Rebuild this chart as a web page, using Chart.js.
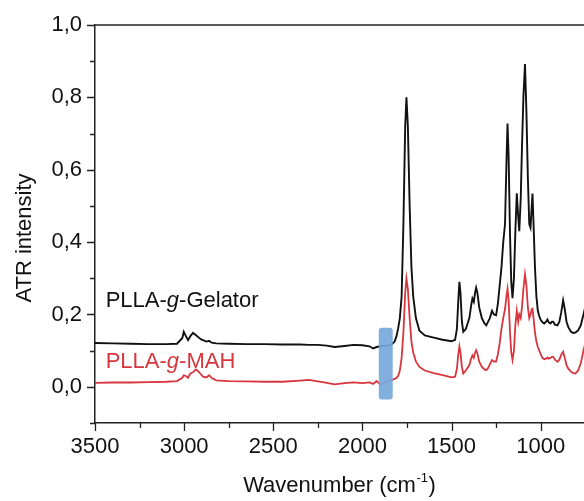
<!DOCTYPE html>
<html><head><meta charset="utf-8">
<script src="https://cdn.jsdelivr.net/npm/chart.js@4.4.1/dist/chart.umd.min.js"></script>
<style>html,body{margin:0;padding:0;background:#fff}canvas{display:block}</style>
</head><body>
<canvas id="c" width="584" height="501"></canvas>
<script>
// ---- data ----
const wavenumbers = [
  3500, 3400, 3300, 3200, 3100, 3040, 3010, 3002, 2990, 2978, 2965, 2950, 2935, 2922, 2905, 2894, 2875, 2860, 2845, 2820,
  2750, 2650, 2550, 2450, 2350, 2300, 2250, 2200, 2156, 2100, 2050, 2000,
  1960, 1940, 1920, 1900, 1880, 1860, 1840, 1820, 1810, 1800, 1790, 1780, 1770, 1760, 1753, 1745, 1735, 1725, 1715, 1700, 1680,
  1650, 1600, 1550, 1500, 1480, 1470, 1462, 1456, 1450, 1442, 1434,
  1420, 1400, 1390, 1383, 1375, 1368, 1362, 1355, 1345, 1330, 1315, 1305, 1295, 1285, 1273, 1262, 1250,
  1240, 1230, 1220, 1210, 1200, 1192, 1186, 1180, 1172, 1165, 1158, 1150, 1142, 1134, 1126, 1120, 1112, 1105, 1097, 1088, 1080, 1072, 1064, 1057, 1050, 1046,
  1040, 1032, 1024, 1016, 1008, 1000, 990, 980, 970, 962, 955, 945, 937, 930, 920, 906, 895, 885, 874, 865, 855, 845, 830, 818, 805, 790, 775, 760, 750
];
const gelator = [
  0.121, 0.120, 0.119, 0.118, 0.118, 0.119, 0.135, 0.152, 0.140, 0.129, 0.140, 0.149, 0.143, 0.138, 0.131, 0.129, 0.125, 0.127, 0.122, 0.120,
  0.119, 0.118, 0.118, 0.117, 0.117, 0.116, 0.116, 0.114, 0.110, 0.113, 0.116, 0.115,
  0.112, 0.106, 0.110, 0.112, 0.113, 0.114, 0.116, 0.125, 0.138, 0.160, 0.190, 0.25, 0.45, 0.72, 0.80, 0.72, 0.50, 0.33, 0.25, 0.19, 0.155,
  0.142, 0.136, 0.130, 0.126, 0.13, 0.16, 0.24, 0.29, 0.26, 0.18, 0.152,
  0.16, 0.19, 0.225, 0.244, 0.235, 0.26, 0.274, 0.26, 0.22, 0.19, 0.175, 0.17, 0.18, 0.19, 0.21, 0.20, 0.198,
  0.23, 0.28, 0.33, 0.40, 0.45, 0.62, 0.728, 0.64, 0.42, 0.29, 0.245, 0.30, 0.43, 0.535, 0.47, 0.43, 0.52, 0.66, 0.80, 0.892, 0.76, 0.58, 0.45, 0.44, 0.50, 0.534,
  0.45, 0.33, 0.25, 0.21, 0.195, 0.185, 0.178, 0.175, 0.18, 0.186, 0.178, 0.175, 0.18, 0.18, 0.172, 0.17, 0.18, 0.205, 0.239, 0.215, 0.18, 0.165, 0.152, 0.149, 0.15, 0.156, 0.17, 0.20, 0.22
];
const mah = [
  0.011, 0.012, 0.012, 0.013, 0.014, 0.016, 0.025, 0.032, 0.030, 0.025, 0.037, 0.040, 0.048, 0.044, 0.034, 0.028, 0.026, 0.032, 0.024, 0.018,
  0.016, 0.015, 0.014, 0.014, 0.017, 0.019, 0.015, 0.011, 0.007, 0.010, 0.012, 0.010,
  0.012, 0.008, 0.016, 0.006, 0.012, 0.016, 0.018, 0.022, 0.024, 0.030, 0.045, 0.08, 0.15, 0.26, 0.30, 0.27, 0.19, 0.125, 0.095, 0.07, 0.055,
  0.045, 0.038, 0.032, 0.026, 0.028, 0.05, 0.09, 0.112, 0.095, 0.055, 0.037,
  0.045, 0.06, 0.078, 0.087, 0.08, 0.095, 0.101, 0.092, 0.07, 0.055, 0.048, 0.046, 0.052, 0.062, 0.074, 0.07, 0.07,
  0.09, 0.12, 0.16, 0.19, 0.215, 0.25, 0.271, 0.24, 0.15, 0.095, 0.074, 0.10, 0.17, 0.21, 0.18, 0.20, 0.19, 0.22, 0.27, 0.311, 0.28, 0.22, 0.19, 0.20, 0.215, 0.216,
  0.19, 0.15, 0.125, 0.11, 0.10, 0.09, 0.08, 0.076, 0.078, 0.081, 0.078, 0.08, 0.083, 0.083, 0.075, 0.069, 0.075, 0.088, 0.097, 0.08, 0.06, 0.05, 0.042, 0.038, 0.037, 0.045, 0.065, 0.10, 0.12
];
const seriesNames = ['PLLA-g-Gelator', 'PLLA-g-MAH'];
const xRange = [757, 3500];      // reversed wavenumber axis
const yRange = [-0.1, 1.0];
const xTickValues = [1000, 1250, 1500, 1750, 2000, 2250, 2500, 2750, 3000, 3250, 3500];
const xLabelTicks = [3500, 3000, 2500, 2000, 1500, 1000];
const yTickValues = [-0.1, 0, 0.1, 0.2, 0.3, 0.4, 0.5, 0.6, 0.7, 0.8, 0.9, 1.0];
const highlightBand = { from: 1908, to: 1830, low: -0.035, high: 0.163 };
const labelAnchors = [ { x: 3440, y: 0.221 }, { x: 3440, y: 0.051 } ];

// ---- styles ----
const FONT = "'Liberation Sans', Arial, sans-serif";
const BLACK = '#111111';
const RED = '#d8363e';
const AXIS = '#222222';

const extras = {
  id: 'extras',
  afterDatasetsDraw(chart) {
    const { ctx, scales: { x, y } } = chart;
    const x1 = x.getPixelForValue(highlightBand.from), x2 = x.getPixelForValue(highlightBand.to);
    const y1 = y.getPixelForValue(highlightBand.high), y2 = y.getPixelForValue(highlightBand.low);
    ctx.save();
    ctx.fillStyle = 'rgba(120,168,220,0.92)';
    ctx.beginPath();
    if (ctx.roundRect) ctx.roundRect(Math.min(x1, x2), y1, Math.abs(x2 - x1), y2 - y1, 3);
    else ctx.rect(Math.min(x1, x2), y1, Math.abs(x2 - x1), y2 - y1);
    ctx.fill();
    ctx.restore();
  },
  afterDraw(chart) {
    const { ctx, chartArea: a, scales: { x, y } } = chart;
    ctx.save();
    ctx.strokeStyle = AXIS;
    ctx.lineWidth = 1.5;
    ctx.beginPath();
    ctx.moveTo(a.left - 0.75, a.top); ctx.lineTo(a.right, a.top);
    ctx.stroke();
    ctx.lineWidth = 1.3;
    ctx.beginPath();
    x.ticks.forEach(t => {
      const px = Math.round(x.getPixelForValue(t.value)) + 0.5;
      const len = t.value % 500 === 0 ? 8 : 5;
      ctx.moveTo(px, a.bottom); ctx.lineTo(px, a.bottom + len);
    });
    y.ticks.forEach(t => {
      const py = Math.round(y.getPixelForValue(t.value)) + 0.5;
      const len = Math.round(t.value * 10) % 2 === 0 ? 8 : 5;
      ctx.moveTo(a.left, py); ctx.lineTo(a.left - len, py);
    });
    ctx.stroke();

    const drawParts = (parts, px, py, color) => {
      let cx = px;
      ctx.fillStyle = color;
      ctx.textBaseline = 'alphabetic';
      ctx.textAlign = 'left';
      parts.forEach(([txt, italic]) => {
        ctx.font = (italic ? 'italic ' : '') + '22px ' + FONT;
        ctx.fillText(txt, cx, py);
        cx += ctx.measureText(txt).width;
      });
    };
    const split = name => { const i = name.indexOf('-g-'); return [[name.slice(0, i + 1), false], ['g', true], [name.slice(i + 2), false]]; };
    drawParts(split(seriesNames[0]), x.getPixelForValue(labelAnchors[0].x), y.getPixelForValue(labelAnchors[0].y), BLACK);
    drawParts(split(seriesNames[1]), x.getPixelForValue(labelAnchors[1].x), y.getPixelForValue(labelAnchors[1].y), RED);

    ctx.fillStyle = BLACK;
    ctx.font = '22px ' + FONT;
    const t1 = 'Wavenumber (cm', sup = '-1', t2 = ')';
    const w1 = ctx.measureText(t1).width, w3 = ctx.measureText(t2).width;
    ctx.font = '13px ' + FONT;
    const w2 = ctx.measureText(sup).width;
    const cx = (a.left + a.right) / 2;
    let sx = cx - (w1 + w2 + w3 + 1) / 2;
    const base = 492;
    ctx.font = '22px ' + FONT;
    ctx.fillText(t1, sx, base);
    ctx.font = '13px ' + FONT;
    ctx.fillText(sup, sx + w1 + 0.5, base - 10);
    ctx.font = '22px ' + FONT;
    ctx.fillText(t2, sx + w1 + w2 + 1, base);

    ctx.save();
    ctx.translate(31, 238);
    ctx.rotate(-Math.PI / 2);
    ctx.textAlign = 'center';
    ctx.fillText('ATR intensity', 0, 0);
    ctx.restore();
    ctx.restore();
  }
};

const tickFont = { family: FONT, size: 22 };

new Chart(document.getElementById('c'), {
  type: 'line',
  data: {
    datasets: [
      { label: seriesNames[0], data: wavenumbers.map((w, i) => ({ x: w, y: gelator[i] })), borderColor: BLACK, borderWidth: 1.9, pointRadius: 0, tension: 0 },
      { label: seriesNames[1], data: wavenumbers.map((w, i) => ({ x: w, y: mah[i] })), borderColor: RED, borderWidth: 1.8, pointRadius: 0, tension: 0 }
    ]
  },
  options: {
    responsive: false,
    animation: false,
    devicePixelRatio: 1,
    layout: { padding: { top: 25, right: 0, left: 0, bottom: 0 } },
    plugins: { legend: { display: false }, tooltip: { enabled: false } },
    scales: {
      x: {
        type: 'linear', reverse: true, min: xRange[0], max: xRange[1],
        afterBuildTicks: s => { s.ticks = xTickValues.map(v => ({ value: v })); },
        afterFit: s => { s.height = 78; },
        ticks: { autoSkip: false, maxRotation: 0, padding: 3, color: BLACK, font: tickFont,
          callback: v => xLabelTicks.includes(v) ? String(v) : '' },
        grid: { display: true, drawOnChartArea: false, drawTicks: true, tickLength: 8, color: 'rgba(0,0,0,0)' },
        border: { display: true, color: AXIS, width: 1.5 }
      },
      y: {
        min: yRange[0], max: yRange[1],
        afterBuildTicks: s => { s.ticks = yTickValues.map(v => ({ value: v })); },
        afterFit: s => { s.width = 95; },
        ticks: { autoSkip: false, padding: 5, color: BLACK, font: tickFont,
          callback: v => Math.round(v * 10) % 2 === 0 ? v.toFixed(1).replace('.', ',') : '' },
        grid: { display: true, drawOnChartArea: false, drawTicks: true, tickLength: 8, color: 'rgba(0,0,0,0)' },
        border: { display: true, color: AXIS, width: 1.5 }
      }
    }
  },
  plugins: [extras]
});
</script>
</body></html>
